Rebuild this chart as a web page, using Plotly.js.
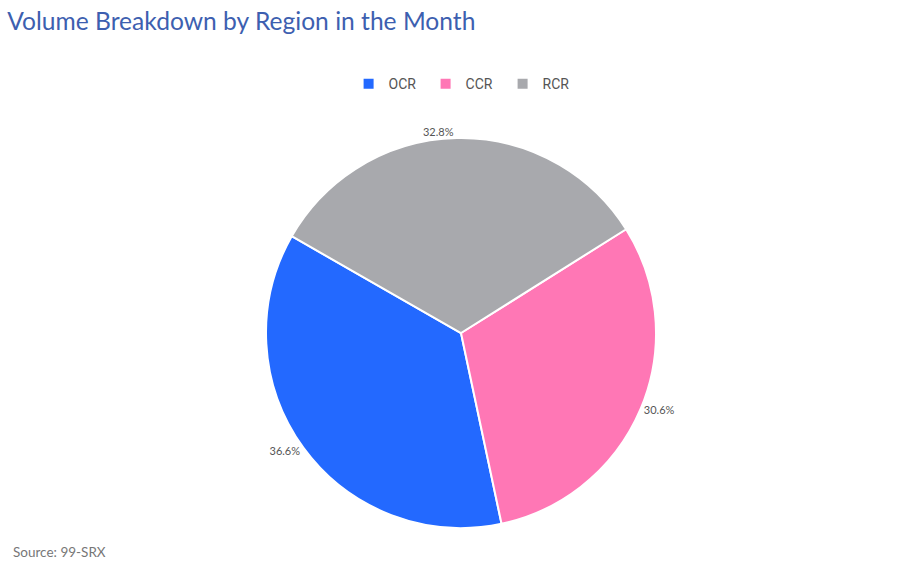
<!DOCTYPE html>
<html>
<head>
<meta charset="utf-8">
<script src="https://cdn.plot.ly/plotly-3.0.1.min.js"></script>
<style>
html,body{margin:0;padding:0;background:#fff;}
#chart{width:910px;height:568px;}
</style>
</head>
<body>
<div id="chart"></div>
<script>
var regions = ['OCR', 'CCR', 'RCR'];
var shares = [36.6, 30.6, 32.8];
var colors = ['#2369ff', '#ff77b5', '#a8a9ad'];

var data = [{
	type: 'pie',
	labels: regions,
	values: shares,
	sort: false,
	direction: 'counterclockwise',
	rotation: 168,
	textinfo: 'percent',
	texttemplate: '%{value:.1f}%',
	textposition: 'outside',
	outsidetextfont: {family: 'Lato, sans-serif', size: 11, color: '#555'},
	hoverinfo: 'label+percent',
	marker: {colors: colors, line: {color: '#fff', width: 2}},
	domain: {x: [0.2923, 0.7209], y: [0.0704, 0.757]}
}];

var layout = {
	width: 910,
	height: 568,
	margin: {l: 0, r: 0, t: 0, b: 0},
	paper_bgcolor: '#fff',
	font: {family: 'Lato, sans-serif', color: '#555'},
	title: {
		text: 'Volume Breakdown by Region in the Month',
		font: {family: 'Lato, sans-serif', size: 24.6, color: '#3d5fb0'},
		xref: 'paper', x: 0.008, xanchor: 'left',
		yref: 'container', y: 0.963, yanchor: 'middle'
	},
	showlegend: true,
	legend: {
		orientation: 'h',
		x: 0.51, xanchor: 'center',
		y: 0.852, yanchor: 'middle',
		entrywidth: 32,
		font: {family: 'Roboto, sans-serif', size: 14, color: '#555'},
		traceorder: 'normal'
	},
	annotations: [{
		text: 'Source: 99-SRX',
		xref: 'paper', yref: 'paper',
		x: 0.012, y: 0.028, xanchor: 'left', yanchor: 'middle',
		showarrow: false,
		font: {family: 'Lato, sans-serif', size: 13.5, color: '#777'}
	}]
};

Plotly.newPlot('chart', data, layout, {displayModeBar: false});
</script>
</body>
</html>
